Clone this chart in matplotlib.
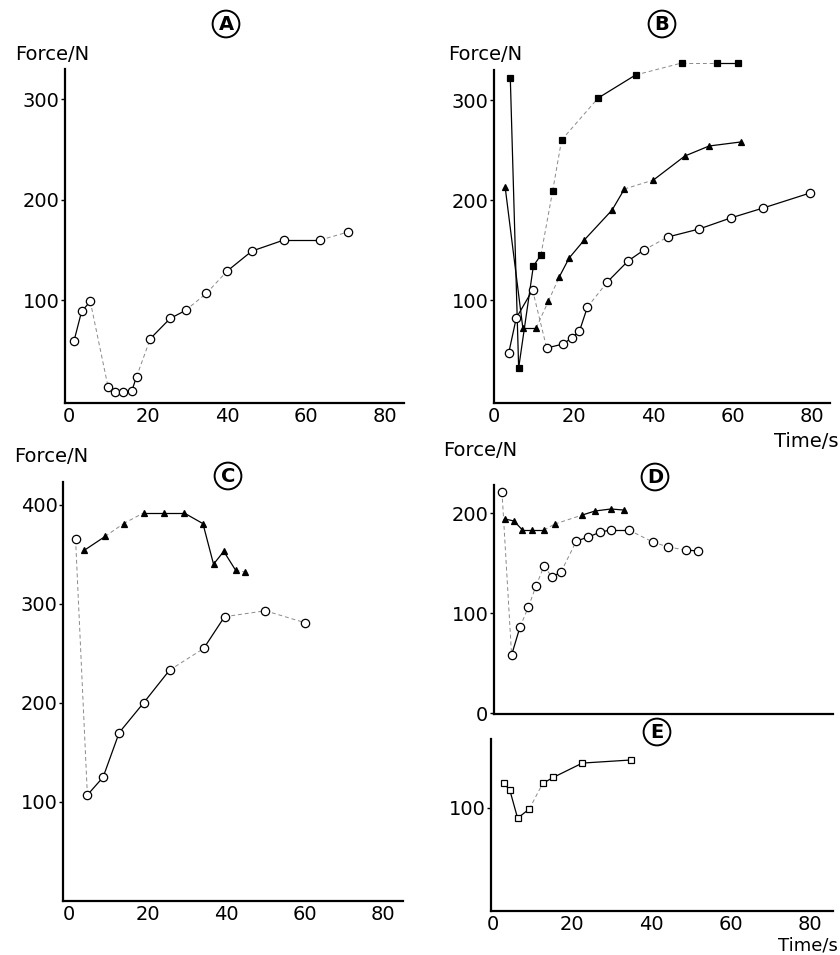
import matplotlib
matplotlib.use("Agg")
import matplotlib.pyplot as plt

plt.rcParams['font.family'] = ['DejaVu Sans']

# Panel A - open circles
a_t = [1.3, 3.2, 5.4, 9.9, 11.7, 13.7, 15.9, 17.1, 20.6, 25.6, 29.5, 34.8, 40.0, 46.3, 54.4, 63.6, 70.7]
a_f = [60, 89, 99, 14, 9, 9, 10, 24, 62, 82, 90, 107, 129, 149, 160, 160, 168]

# Panel B - filled squares, filled triangles, open circles
b_sq_t = [4.1, 6.2, 9.9, 11.8, 14.75, 17.0, 26.2, 35.6, 47.2, 56.2, 61.3]
b_sq_f = [322, 32, 134, 145, 209, 260, 302, 325, 337, 337, 337]
b_tri_t = [2.8, 7.25, 10.6, 13.7, 16.4, 18.9, 22.7, 29.7, 32.8, 40.1, 48.0, 54.1, 62.0]
b_tri_f = [213, 72, 72, 99, 123, 142, 160, 190, 211, 220, 244, 254, 258]
b_cir_t = [3.7, 5.6, 9.7, 13.25, 17.4, 19.5, 21.5, 23.5, 28.5, 33.7, 37.7, 43.7, 51.6, 59.5, 67.7, 79.5]
b_cir_f = [47, 82, 110, 52, 56, 62, 69, 93, 118, 139, 150, 163, 171, 182, 192, 207]

# Panel C - open circles, filled triangles
c_cir_t = [1.7, 4.7, 8.7, 12.8, 19.0, 25.6, 34.3, 39.6, 50.0, 60.0]
c_cir_f = [365, 107, 125, 170, 200, 233, 255, 287, 293, 281]
c_tri_t = [3.9, 9.2, 13.9, 19.1, 24.1, 29.2, 34.1, 36.8, 39.4, 42.4, 44.9]
c_tri_f = [354, 368, 381, 392, 392, 392, 381, 340, 353, 334, 332]

# Panel D - open circles, filled triangles
d_cir_t = [2.5, 4.9, 7.0, 9.1, 11.0, 13.0, 15.0, 17.25, 21.1, 24.1, 27.1, 29.7, 34.2, 40.2, 44.0, 48.4, 51.5]
d_cir_f = [221, 58, 86, 106, 127, 147, 136, 141, 172, 176, 181, 183, 183, 171, 166, 163, 162]
d_tri_t = [3.25, 5.5, 7.6, 10.1, 13.0, 15.7, 22.6, 25.75, 29.7, 32.9]
d_tri_f = [194, 192, 183, 183, 183, 189, 198, 202, 204, 203]

# Panel E - open squares
e_t = [2.8, 4.3, 6.3, 9.25, 12.6, 15.3, 22.6, 34.75]
e_f = [124, 118, 90, 99, 124, 130, 144, 147]

W, H = 840, 955
fig = plt.figure(figsize=(W / 100, H / 100), dpi=100)


def make_axes(left, top, right, bottom):
    # pixel box -> figure fraction
    return fig.add_axes([left / W, 1 - bottom / H, (right - left) / W, (bottom - top) / H])


def style(ax, xlim, ylim, yticks, xlabels=True):
    ax.set_xlim(*xlim)
    ax.set_ylim(*ylim)
    for s in ['top', 'right']:
        ax.spines[s].set_visible(False)
    for s in ['left', 'bottom']:
        ax.spines[s].set_linewidth(1.6)
    ax.set_yticks(yticks)
    ax.set_yticklabels([str(v) for v in yticks])
    ax.tick_params(axis='y', length=3, width=1, pad=1, labelsize=14)
    if xlabels:
        ax.set_xticks([0, 20, 40, 60, 80])
        ax.tick_params(axis='x', length=0, pad=3, labelsize=14)
    else:
        ax.set_xticks([])


def series(ax, t, f, marker, ms, filled, faint=()):
    for i in range(len(t) - 1):
        if i in faint:
            ax.plot(t[i:i + 2], f[i:i + 2], color='#8a8a8a', lw=0.7, ls=(0, (4, 3)), clip_on=False)
        else:
            ax.plot(t[i:i + 2], f[i:i + 2], color='black', lw=0.9, clip_on=False)
    ax.plot(t, f, ls='none', marker=marker, ms=ms, mec='black', mew=0.9,
            mfc='black' if filled else 'white', zorder=3, clip_on=False)


def badge(x, y, letter):
    fig.text(x / W, 1 - y / H, letter, ha='center', va='center', fontsize=14,
             fontweight='bold', bbox=dict(boxstyle='circle,pad=0.2', fc='white', ec='black', lw=1.4))


# A
ax = make_axes(65, 69, 404, 403)
style(ax, (-1.0, 84.8), (-2, 330), [100, 200, 300])
series(ax, a_t, a_f, 'o', 6, False, faint=(2, 7, 10, 11, 15))

# B
ax = make_axes(494, 70, 830, 403)
style(ax, (0.5, 84.5), (-3, 330), [100, 200, 300])
series(ax, b_sq_t, b_sq_f, 's', 4, True, faint=(3, 4, 5, 7, 8))
series(ax, b_tri_t, b_tri_f, '^', 4.5, True, faint=(2, 3, 8))
series(ax, b_cir_t, b_cir_f, 'o', 6, False, faint=(2, 7, 10))

# C
ax = make_axes(63, 482, 403, 901)
style(ax, (-1.5, 85), (0, 423), [100, 200, 300, 400])
series(ax, c_cir_t, c_cir_f, 'o', 6, False, faint=(0, 5, 7, 8))
series(ax, c_tri_t, c_tri_f, '^', 4.5, True, faint=(1, 2, 9))

# D
ax = make_axes(494, 485, 833, 714)
style(ax, (0.5, 85.25), (-1, 228), [0, 100, 200], xlabels=False)
series(ax, d_cir_t, d_cir_f, 'o', 6, False, faint=(0, 2, 3, 4, 5, 7, 12, 13, 14))
series(ax, d_tri_t, d_tri_f, '^', 4.5, True, faint=(4, 5))

# E
ax = make_axes(491, 739, 833, 911)
style(ax, (-0.4, 85.7), (-1, 167.6), [100])
series(ax, e_t, e_f, 's', 5, False, faint=(3,))

# axis captions
for x, y in [(15, 54), (448, 54), (14, 456), (443, 450)]:
    fig.text(x / W, 1 - y / H, 'Force/N', ha='left', va='center', fontsize=14)
fig.text(838 / W, 1 - 441 / H, 'Time/s', ha='right', va='center', fontsize=14)
fig.text(838 / W, 1 - 945 / H, 'Time/s', ha='right', va='center', fontsize=13)

badge(226, 24, 'A')
badge(662, 24, 'B')
badge(228, 476, 'C')
badge(655, 477, 'D')
badge(657, 732, 'E')

fig.savefig('out.png', dpi=100)
